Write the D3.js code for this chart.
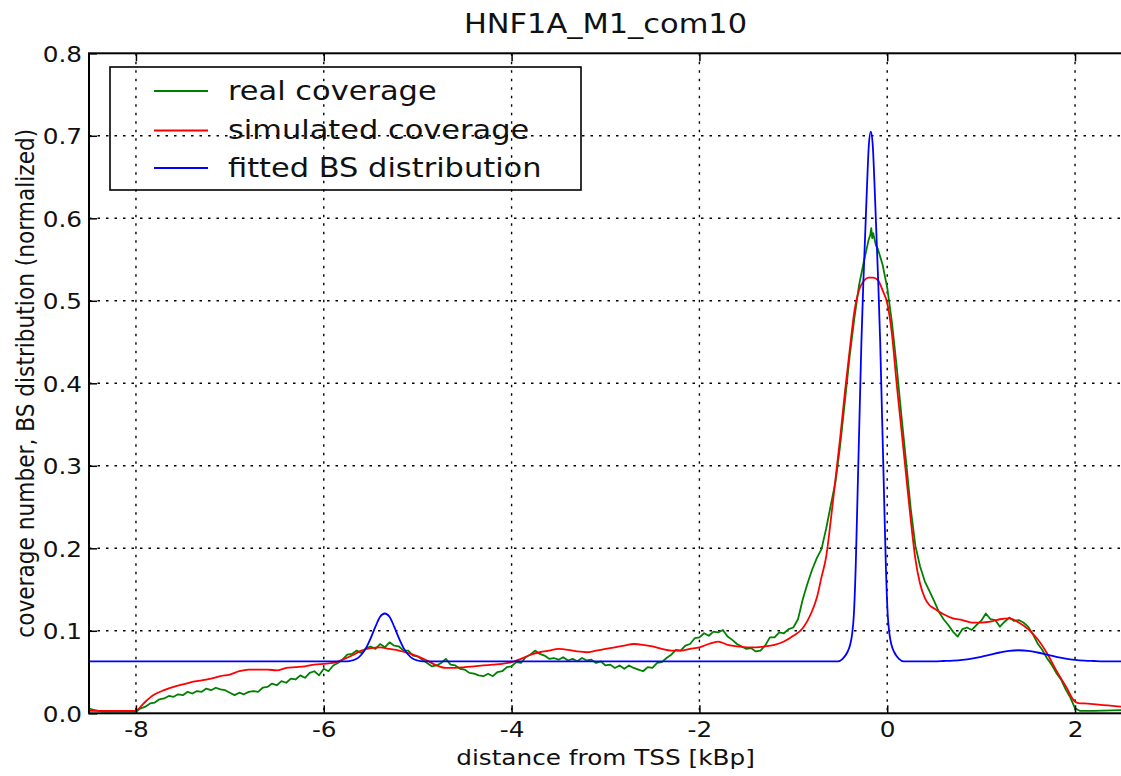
<!DOCTYPE html>
<html>
<head>
<meta charset="utf-8">
<script src="https://cdn.jsdelivr.net/npm/d3@7"></script>
<style>
  body { margin: 0; background: #fff; }
  svg { display: block; font-family: "DejaVu Sans", sans-serif; }
</style>
</head>
<body>
<svg id="chart" width="1121" height="776"></svg>
<script>
// values
const chartTitle = "HNF1A_M1_com10";
const xLabel = "distance from TSS [kBp]";
const yLabel = "coverage number, BS distribution (normalized)";
const seriesNames = ["real coverage", "simulated coverage", "fitted BS distribution"];
const seriesColors = ["#008000", "#ff0000", "#0000ff"];
const xTicks = [-8, -6, -4, -2, 0, 2];
const yTicks = [0.0, 0.1, 0.2, 0.3, 0.4, 0.5, 0.6, 0.7, 0.8];

// real coverage [kBp, value]
const realCoverage = [
  [-8.50,0.006],[-8.45,0.004],[-8.40,0.003],[-8.35,0.002],[-8.30,0.002],[-8.20,0.002],[-8.10,0.002],[-8.00,0.002],
  [-7.95,0.006],[-7.90,0.008],[-7.85,0.012],[-7.80,0.013],[-7.75,0.017],[-7.70,0.018],[-7.65,0.021],[-7.60,0.020],
  [-7.55,0.023],[-7.50,0.022],[-7.45,0.026],[-7.40,0.024],[-7.35,0.027],[-7.30,0.026],[-7.25,0.030],[-7.20,0.028],
  [-7.15,0.031],[-7.10,0.029],[-7.05,0.028],[-7.00,0.025],[-6.95,0.022],[-6.90,0.025],[-6.85,0.023],[-6.80,0.026],
  [-6.75,0.027],[-6.70,0.026],[-6.65,0.031],[-6.60,0.032],[-6.55,0.036],[-6.50,0.034],[-6.45,0.039],[-6.40,0.037],
  [-6.35,0.042],[-6.30,0.041],[-6.25,0.046],[-6.20,0.043],[-6.15,0.049],[-6.10,0.051],[-6.05,0.046],[-6.00,0.054],
  [-5.95,0.051],[-5.90,0.058],[-5.85,0.061],[-5.80,0.065],[-5.75,0.071],[-5.70,0.072],[-5.65,0.076],[-5.60,0.073],
  [-5.55,0.079],[-5.50,0.081],[-5.45,0.078],[-5.40,0.084],[-5.35,0.080],[-5.30,0.086],[-5.25,0.082],[-5.20,0.081],
  [-5.15,0.076],[-5.10,0.076],[-5.05,0.070],[-5.00,0.069],[-4.95,0.065],[-4.90,0.061],[-4.85,0.057],[-4.80,0.058],
  [-4.75,0.061],[-4.70,0.066],[-4.65,0.059],[-4.60,0.058],[-4.55,0.054],[-4.50,0.053],[-4.45,0.049],[-4.40,0.048],
  [-4.35,0.046],[-4.30,0.045],[-4.25,0.048],[-4.20,0.045],[-4.15,0.050],[-4.10,0.051],[-4.05,0.056],[-4.00,0.057],
  [-3.95,0.062],[-3.90,0.061],[-3.85,0.068],[-3.80,0.071],[-3.75,0.076],[-3.70,0.072],[-3.65,0.070],[-3.60,0.066],
  [-3.55,0.067],[-3.50,0.065],[-3.45,0.068],[-3.40,0.064],[-3.35,0.066],[-3.30,0.063],[-3.25,0.067],[-3.20,0.064],
  [-3.15,0.065],[-3.10,0.061],[-3.05,0.063],[-3.00,0.058],[-2.95,0.059],[-2.90,0.055],[-2.85,0.058],[-2.80,0.054],
  [-2.75,0.058],[-2.70,0.055],[-2.65,0.053],[-2.60,0.051],[-2.55,0.056],[-2.50,0.055],[-2.45,0.061],[-2.40,0.062],
  [-2.35,0.067],[-2.30,0.071],[-2.25,0.077],[-2.20,0.076],[-2.15,0.082],[-2.10,0.084],[-2.05,0.091],[-2.00,0.092],
  [-1.95,0.097],[-1.90,0.094],[-1.85,0.099],[-1.80,0.098],[-1.75,0.101],[-1.70,0.093],[-1.65,0.089],[-1.60,0.084],
  [-1.55,0.081],[-1.50,0.078],[-1.45,0.079],[-1.40,0.075],[-1.35,0.076],[-1.30,0.082],[-1.25,0.092],[-1.20,0.092],
  [-1.15,0.098],[-1.10,0.097],[-1.05,0.102],[-1.00,0.104],[-0.95,0.114],[-0.90,0.138],[-0.85,0.157],[-0.80,0.174],
  [-0.75,0.188],[-0.70,0.199],[-0.65,0.224],[-0.60,0.253],[-0.55,0.281],[-0.50,0.326],[-0.45,0.379],[-0.40,0.433],
  [-0.35,0.479],[-0.30,0.519],[-0.25,0.547],[-0.20,0.573],[-0.18,0.580],[-0.17,0.588],[-0.16,0.576],[-0.15,0.582],
  [-0.12,0.567],[-0.10,0.563],[-0.05,0.544],[0.00,0.516],[0.05,0.474],[0.10,0.421],[0.15,0.362],[0.20,0.306],
  [0.25,0.248],[0.30,0.203],[0.35,0.178],[0.40,0.160],[0.45,0.148],[0.50,0.136],[0.55,0.123],[0.60,0.114],
  [0.65,0.107],[0.70,0.099],[0.75,0.093],[0.80,0.102],[0.85,0.104],[0.90,0.101],[0.95,0.107],[1.00,0.112],
  [1.05,0.121],[1.10,0.114],[1.15,0.113],[1.20,0.105],[1.25,0.111],[1.30,0.116],[1.35,0.112],[1.40,0.113],
  [1.45,0.110],[1.50,0.105],[1.55,0.096],[1.60,0.085],[1.65,0.077],[1.70,0.067],[1.75,0.059],[1.80,0.049],
  [1.85,0.041],[1.90,0.029],[1.95,0.019],[2.00,0.006],[2.05,0.003],[2.20,0.003],[2.50,0.004]
];

// simulated coverage [kBp, value]
const simulatedCoverage = [
  [-8.5,0.003],[-8.0,0.003],[-7.95,0.008],[-7.9,0.014],[-7.85,0.019],[-7.8,0.023],[-7.7,0.028],[-7.6,0.032],
  [-7.5,0.035],[-7.4,0.038],[-7.3,0.040],[-7.2,0.042],[-7.1,0.045],[-7.0,0.047],[-6.9,0.051],[-6.8,0.053],
  [-6.7,0.053],[-6.6,0.053],[-6.5,0.052],[-6.4,0.055],[-6.3,0.056],[-6.2,0.057],[-6.1,0.059],[-6.0,0.060],
  [-5.9,0.061],[-5.8,0.065],[-5.7,0.070],[-5.6,0.076],[-5.5,0.079],[-5.4,0.080],[-5.3,0.078],[-5.2,0.076],
  [-5.1,0.073],[-5.0,0.069],[-4.9,0.064],[-4.8,0.058],[-4.7,0.055],[-4.6,0.055],[-4.5,0.056],[-4.4,0.057],
  [-4.3,0.058],[-4.2,0.059],[-4.1,0.060],[-4.0,0.062],[-3.9,0.066],[-3.8,0.071],[-3.7,0.074],[-3.6,0.076],
  [-3.5,0.078],[-3.4,0.077],[-3.3,0.075],[-3.2,0.074],[-3.1,0.076],[-3.0,0.078],[-2.9,0.080],[-2.8,0.082],
  [-2.7,0.084],[-2.6,0.083],[-2.5,0.081],[-2.4,0.078],[-2.3,0.076],[-2.2,0.076],[-2.1,0.078],[-2.0,0.080],
  [-1.9,0.084],[-1.8,0.087],[-1.7,0.083],[-1.6,0.081],[-1.5,0.080],[-1.4,0.080],[-1.3,0.081],[-1.2,0.083],
  [-1.1,0.087],[-1.0,0.094],[-0.9,0.103],[-0.85,0.112],[-0.8,0.124],[-0.75,0.140],[-0.7,0.165],[-0.65,0.190],
  [-0.6,0.235],[-0.55,0.285],[-0.5,0.335],[-0.45,0.390],[-0.4,0.440],[-0.35,0.487],[-0.3,0.513],[-0.25,0.524],
  [-0.2,0.528],[-0.15,0.528],[-0.1,0.525],[-0.05,0.513],[0.0,0.497],[0.05,0.460],[0.1,0.400],[0.15,0.345],
  [0.2,0.290],[0.25,0.235],[0.3,0.187],[0.35,0.157],[0.4,0.140],[0.45,0.131],[0.5,0.127],[0.6,0.120],
  [0.7,0.115],[0.8,0.113],[0.9,0.110],[1.0,0.110],[1.1,0.111],[1.2,0.114],[1.3,0.115],[1.4,0.110],
  [1.5,0.102],[1.6,0.090],[1.7,0.073],[1.8,0.052],[1.9,0.033],[2.0,0.014],[2.05,0.012],[2.1,0.012],
  [2.2,0.011],[2.3,0.010],[2.4,0.009],[2.5,0.008]
];

// fitted BS distribution [kBp, value]
const fittedBS = [
  [-8.5,0.063],[-5.8,0.063],[-5.75,0.063],[-5.7,0.064],[-5.65,0.066],[-5.6,0.071],[-5.55,0.079],[-5.5,0.091],
  [-5.45,0.105],[-5.4,0.117],[-5.35,0.121],[-5.3,0.117],[-5.25,0.105],[-5.2,0.091],[-5.15,0.079],[-5.1,0.071],
  [-5.05,0.066],[-5.0,0.064],[-4.95,0.063],[-0.525,0.063],[-0.475,0.066],[-0.425,0.074],[-0.395,0.083],
  [-0.375,0.095],[-0.355,0.120],[-0.335,0.180],[-0.315,0.270],[-0.295,0.360],[-0.275,0.450],[-0.255,0.520],
  [-0.235,0.580],[-0.215,0.640],[-0.195,0.690],[-0.175,0.705],[-0.155,0.690],[-0.135,0.640],[-0.115,0.580],
  [-0.095,0.520],[-0.075,0.450],[-0.055,0.360],[-0.035,0.270],[-0.015,0.180],[0.005,0.120],[0.025,0.095],
  [0.045,0.083],[0.075,0.074],[0.125,0.066],[0.175,0.063],[0.5,0.063],[0.6,0.0634],[0.7,0.0639],[0.8,0.0648],
  [0.9,0.0663],[1.0,0.0685],[1.1,0.0711],[1.2,0.0737],[1.3,0.0757],[1.4,0.0764],[1.5,0.0757],[1.6,0.0737],
  [1.7,0.0711],[1.8,0.0685],[1.9,0.0663],[2.0,0.0648],[2.1,0.0639],[2.2,0.0634],[2.3,0.063],[2.5,0.063]
];

const seriesData = [realCoverage, simulatedCoverage, fittedBS];

// the reference text is a bit wider than tall, stretch it horizontally
const textStretch = 1.14;

const svg = d3.select("#chart");

const plot = { left: 89, right: 1122, top: 53.3, bottom: 713.3 };

const x = d3.scaleLinear().domain([-8.5, 2.5]).range([plot.left, plot.right]);
const y = d3.scaleLinear().domain([0, 0.8]).range([plot.bottom, plot.top]);

svg.append("defs").append("clipPath")
    .attr("id", "plotClip")
    .append("rect")
    .attr("x", plot.left)
    .attr("y", plot.top)
    .attr("width", plot.right - plot.left)
    .attr("height", plot.bottom - plot.top);

// dotted grid
const grid = svg.append("g")
    .attr("stroke", "#000")
    .attr("stroke-width", 1.4)
    .attr("stroke-dasharray", "2.5,6");

grid.selectAll(".vgrid")
    .data(xTicks)
    .enter().append("line")
    .attr("x1", d => x(d)).attr("x2", d => x(d))
    .attr("y1", plot.top).attr("y2", plot.bottom);

grid.selectAll(".hgrid")
    .data(yTicks.filter(d => d > 0 && d < 0.8))
    .enter().append("line")
    .attr("x1", plot.left).attr("x2", plot.right)
    .attr("y1", d => y(d)).attr("y2", d => y(d));

// lines
const line = d3.line()
    .x(d => x(d[0]))
    .y(d => y(d[1]));

const lines = svg.append("g").attr("clip-path", "url(#plotClip)");

seriesData.forEach((data, i) => {
    lines.append("path")
        .datum(data)
        .attr("fill", "none")
        .attr("stroke", seriesColors[i])
        .attr("stroke-width", 1.8)
        .attr("stroke-linejoin", "round")
        .attr("d", line.curve(i === 0 ? d3.curveLinear : d3.curveMonotoneX));
});

// axes: ticks point inward, on both sides
const xAxis = svg.append("g")
    .attr("transform", `translate(0,${plot.bottom})`)
    .call(d3.axisBottom(x).tickValues(xTicks).tickSizeInner(-8).tickSizeOuter(0).tickPadding(12).tickFormat(d => String(d)));

const xAxisTop = svg.append("g")
    .attr("transform", `translate(0,${plot.top})`)
    .call(d3.axisTop(x).tickValues(xTicks).tickSizeInner(-8).tickSizeOuter(0).tickFormat(""));

const yAxis = svg.append("g")
    .attr("transform", `translate(${plot.left},0)`)
    .call(d3.axisLeft(y).tickValues(yTicks).tickSizeInner(-8).tickSizeOuter(0).tickPadding(6).tickFormat(d3.format(".1f")));

[xAxis, xAxisTop, yAxis].forEach(g => {
    g.select(".domain").remove();
    g.selectAll(".tick line").attr("stroke", "#000").attr("stroke-width", 1.5);
    g.selectAll("text")
        .attr("fill", "#111")
        .style("font-family", "'DejaVu Sans', sans-serif")
        .style("font-size", "21.7px");
});

xAxis.selectAll("text")
    .attr("dy", null)
    .attr("y", 23.5)
    .attr("transform", `scale(${textStretch},1)`);

yAxis.selectAll("text")
    .attr("dy", "0.36em")
    .attr("x", -7 / textStretch)
    .attr("transform", `scale(${textStretch},1)`);

// frame
svg.append("rect")
    .attr("x", plot.left)
    .attr("y", plot.top)
    .attr("width", plot.right - plot.left)
    .attr("height", plot.bottom - plot.top)
    .attr("fill", "none")
    .attr("stroke", "#000")
    .attr("stroke-width", 2);

// title and axis labels
function stretchedText(px, py, str, size, anchor, rotate) {
    return svg.append("text")
        .attr("transform", `translate(${px},${py}) scale(${textStretch},1)` + (rotate ? ` rotate(${rotate})` : ""))
        .attr("text-anchor", anchor)
        .attr("fill", "#111")
        .style("font-size", size + "px")
        .text(str);
}

stretchedText((plot.left + plot.right) / 2, 33, chartTitle, 26.7, "middle");
stretchedText((plot.left + plot.right) / 2, 765, xLabel, 21.7, "middle");
stretchedText(34, (plot.top + plot.bottom) / 2, yLabel, 21.7, "middle", -90);

// legend
const legend = svg.append("g");

legend.append("rect")
    .attr("x", 110)
    .attr("y", 67)
    .attr("width", 471)
    .attr("height", 123)
    .attr("fill", "none")
    .attr("stroke", "#000")
    .attr("stroke-width", 1.6);

const legendRows = [91, 130.5, 168];

seriesNames.forEach((name, i) => {
    legend.append("line")
        .attr("x1", 154).attr("x2", 208)
        .attr("y1", legendRows[i]).attr("y2", legendRows[i])
        .attr("stroke", seriesColors[i])
        .attr("stroke-width", 1.8);

    legend.append("text")
        .attr("transform", `translate(228,${legendRows[i] + 8.5}) scale(${textStretch},1)`)
        .attr("fill", "#111")
        .style("font-size", "26.7px")
        .text(name);
});

console.log("chart drawn");
</script>
</body>
</html>
